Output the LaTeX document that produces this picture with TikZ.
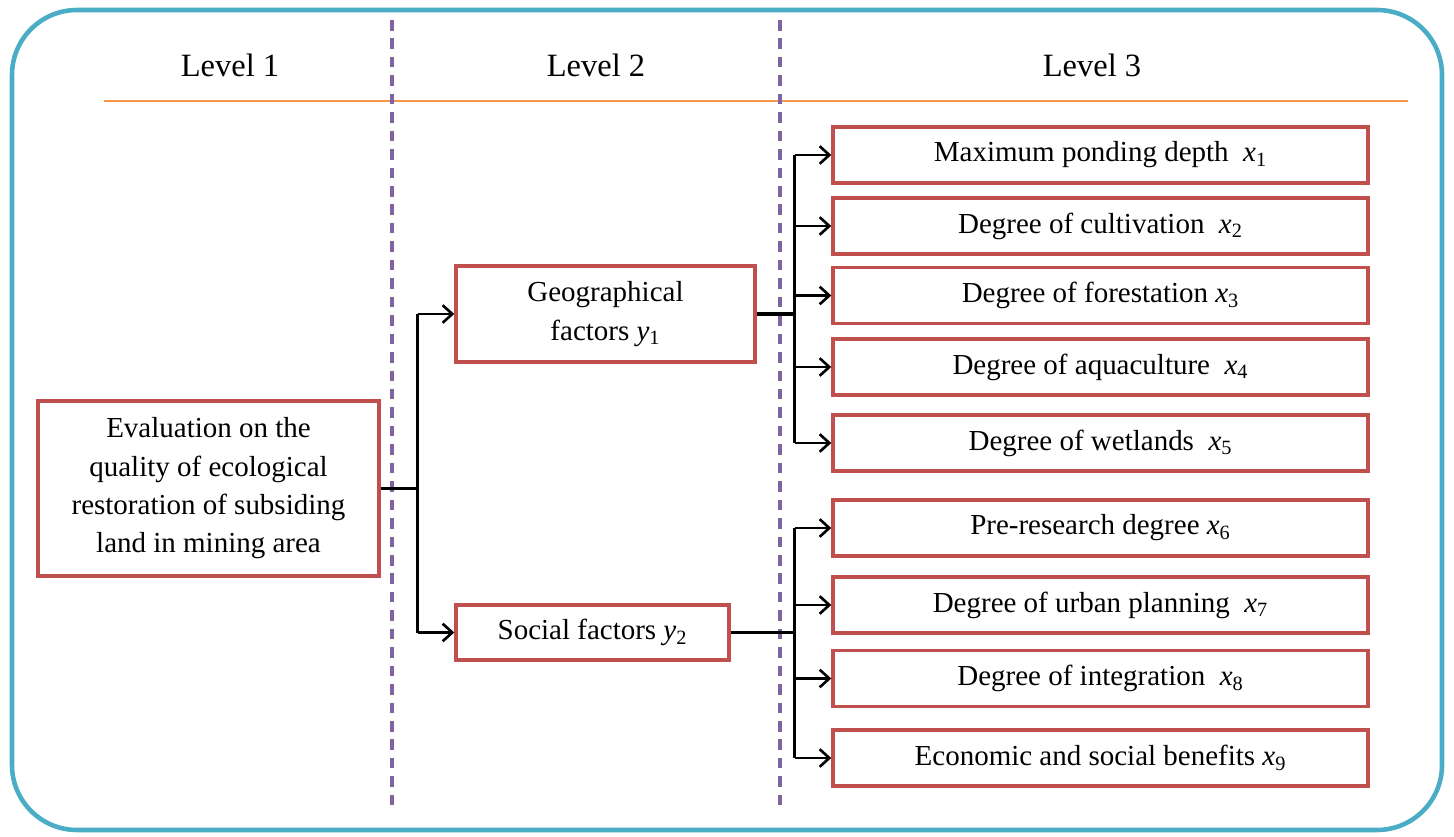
\documentclass[tikz,border=0pt]{standalone}
\usepackage{fontspec}
\setmainfont{Liberation Serif}
\usetikzlibrary{positioning, arrows.meta, calc}
\definecolor{framecyan}{RGB}{75,172,198}
\definecolor{boxred}{RGB}{192,80,77}
\definecolor{dashpurple}{RGB}{128,100,162}
\definecolor{ruleorange}{RGB}{247,150,70}
\newcommand{\idx}[2]{\textit{#1}\textsubscript{#2}}

\begin{document}
\begin{tikzpicture}[x=0.02cm, y=-0.02cm, font=\fontsize{16.5}{21.8}\selectfont,
    >={Straight Barb[length=5.5pt, width=10pt]},
    factor/.style={draw=boxred, line width=2pt, align=center, inner sep=0pt},
    leaf/.style={factor, minimum width=10.7cm, minimum height=1.12cm},
    link/.style={line width=1.5pt},
    stub/.style={line width=2.2pt},
    divider/.style={dashpurple, line width=1.8pt, dash pattern=on 6pt off 4.5pt}]
  \useasboundingbox (0,0) rectangle (1454,837);
  % frame and header
  \draw[framecyan, line width=2.6pt, rounded corners=1.3cm] (12,10) rectangle (1442,830);
  \draw[ruleorange, line width=1pt] (104,101) -- (1408,101);
  \draw[divider] (392,20) -- (392,808);
  \draw[divider] (780,20) -- (780,808);
  \node[font=\fontsize{18.5}{22}\selectfont] (lv1) at (230,65) {Level 1};
  \node[font=\fontsize{18.5}{22}\selectfont] (lv2) at (596,65) {Level 2};
  \node[font=\fontsize{18.5}{22}\selectfont] (lv3) at (1092,65) {Level 3};
  % level 1 and level 2
  \node[factor, minimum width=6.82cm, minimum height=3.5cm] (goal) at (208.5,488.5)
    {Evaluation on the\\quality of ecological\\restoration of subsiding\\land in mining area};
  \node[factor, minimum width=5.98cm, minimum height=1.92cm] (geo) at (605.5,314)
    {Geographical\\factors \idx{y}{1}};
  \node[factor, minimum width=5.46cm, minimum height=1.1cm] (soc) at (592.5,632.5)
    {Social factors \idx{y}{2}};
  % level 3
  \foreach \i/\yc/\txt in {1/155/{Maximum ponding depth\enspace\idx{x}{1}},
      2/226/{Degree of cultivation\enspace\idx{x}{2}},
      3/295.5/{Degree of forestation \idx{x}{3}},
      4/367/{Degree of aquaculture\enspace\idx{x}{4}},
      5/443/{Degree of wetlands\enspace\idx{x}{5}},
      6/528/{Pre-research degree \idx{x}{6}},
      7/605/{Degree of urban planning\enspace\idx{x}{7}},
      8/678.5/{Degree of integration\enspace\idx{x}{8}},
      9/758/{Economic and social benefits \idx{x}{9}}}{
    \node[leaf] (x\i) at (1100.5,\yc) {\txt};
  }
  % connectors
  \coordinate (jgoal) at ($(goal.east)+(37,0)$);
  \coordinate (jgeo) at ($(geo.east)+(38,0)$);
  \coordinate (jsoc) at (jgeo |- soc.east);
  \draw[stub] (goal.east) -- (jgoal);
  \draw[link] (jgoal |- geo.west) -- (jgoal |- soc.west);
  \draw[link, ->] (jgoal |- geo.west) -- (geo.west);
  \draw[link, ->] (jgoal |- soc.west) -- (soc.west);
  \draw[stub] (geo.east) -- (jgeo);
  \draw[stub] (soc.east) -- (jsoc);
  \draw[link] (jgeo |- x1.west) -- (jgeo |- x5.west);
  \draw[link] (jgeo |- x6.west) -- (jgeo |- x9.west);
  \foreach \i in {1,...,9}{
    \draw[link, ->] (jgeo |- x\i.west) -- (x\i.west);
  }
\end{tikzpicture}
\end{document}
